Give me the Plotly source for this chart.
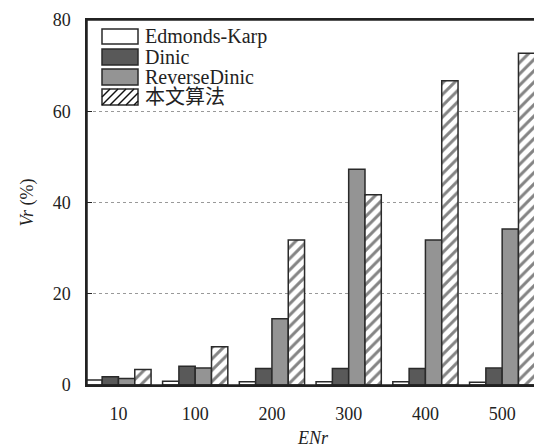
import plotly.graph_objects as go

categories = ["10", "100", "200", "300", "400", "500"]
series_names = ["Edmonds-Karp", "Dinic", "ReverseDinic", "本文算法"]
edmonds_karp = [1.1, 0.8, 0.7, 0.7, 0.7, 0.6]
dinic = [1.8, 4.1, 3.6, 3.6, 3.6, 3.7]
reverse_dinic = [1.4, 3.7, 14.5, 47.3, 31.8, 34.2]
ours = [3.4, 8.4, 31.8, 41.7, 66.7, 72.7]
y_ticks = [0, 20, 40, 60, 80]

FONT = "Liberation Serif, Times New Roman, serif"
CJK_FONT = "Liberation Serif, Noto Sans CJK SC, serif"
EDGE = "#2a2a2a"
fills = ["#ffffff", "#595959", "#949494", "#ffffff"]

# page body has an 8px margin: figure is placed at (8, 8) in the window
OFF = 8
W, H = 542 - OFF, 448 - OFF
L, R, T, B = 87 - OFF, 3, 20 - OFF, 63
pw, ph = W - L - R, H - T - B

fig = go.Figure()
data = [edmonds_karp, dinic, reverse_dinic, ours]
for i, (name, vals) in enumerate(zip(series_names, data)):
    marker = dict(color=fills[i], line=dict(color=EDGE, width=1.5))
    if i == 3:
        marker["pattern"] = dict(shape="/", size=8, solidity=0.38,
                                 fgcolor="#0a0a0a", bgcolor="#ffffff")
    fig.add_trace(go.Bar(x=categories, y=vals, name=name, marker=marker,
                         showlegend=False))

def px2paper(x, y):
    x -= OFF
    y -= OFF
    return (x - L) / pw, (H - B - y) / ph

shapes = []
annotations = []
box_x0, box_x1 = 102, 138
rows = [(29, 44), (49, 65), (69, 85), (89, 105)]
for i, (y0, y1) in enumerate(rows):
    ax0, ay1 = px2paper(box_x0, y0)
    ax1, ay0 = px2paper(box_x1, y1)
    shapes.append(dict(type="rect", xref="paper", yref="paper",
                       x0=ax0, x1=ax1, y0=ay0, y1=ay1,
                       fillcolor=fills[i], line=dict(color=EDGE, width=1.5),
                       layer="above"))
    if i == 3:
        c = box_x0 + y0
        while c < box_x1 + y1:
            xa = max(box_x0, c - y1)
            xb = min(box_x1, c - y0)
            if xb > xa + 0.5:
                p0 = px2paper(xa, c - xa)
                p1 = px2paper(xb, c - xb)
                shapes.append(dict(type="line", xref="paper", yref="paper",
                                   x0=p0[0], y0=p0[1], x1=p1[0], y1=p1[1],
                                   line=dict(color="#111111", width=1.4),
                                   layer="above"))
            c += 8
    tx, ty = px2paper(143, (y0 + y1) / 2)
    annotations.append(dict(xref="paper", yref="paper", x=tx, y=ty,
                            text=series_names[i], showarrow=False,
                            xanchor="left", yanchor="middle",
                            font=dict(family=CJK_FONT, size=20, color="#222222")))

# frame (top and right border of the plot area)
shapes.append(dict(type="rect", xref="paper", yref="paper", x0=0, x1=1,
                   y0=0, y1=1, line=dict(color="#222222", width=1.5),
                   fillcolor="rgba(0,0,0,0)", layer="above"))

fig.update_layout(
    width=W, height=H,
    margin=dict(l=L, r=R, t=T, b=B, pad=0),
    paper_bgcolor="white", plot_bgcolor="white",
    barmode="group", bargap=0.15, bargroupgap=0,
    font=dict(family=FONT, size=18, color="#222222"),
    shapes=shapes, annotations=annotations,
    xaxis=dict(range=[-0.41, 5.48], showline=True, linecolor="#222222",
               linewidth=1.5, mirror=True, ticks="", showgrid=False,
               automargin=False,
               tickfont=dict(family=FONT, size=18), ticklabelstandoff=12,
               title=dict(text="<i>ENr</i>", font=dict(family=FONT, size=18),
                          standoff=10)),
    yaxis=dict(range=[0, 80], tickvals=y_ticks, showline=True,
               linecolor="#222222", linewidth=1.5, mirror=True,
               ticks="inside", ticklen=5, tickcolor="#222222",
               showgrid=True, gridcolor="#999999", griddash="dot",
               gridwidth=1, zeroline=False, automargin=False,
               tickfont=dict(family=FONT, size=18), ticklabelstandoff=11,
               title=dict(text="<i>Vr</i> (%)", font=dict(family=FONT, size=18),
                          standoff=14)),
)

fig.write_html("out.html",
               post_script="document.documentElement.style.overflow='hidden';")
